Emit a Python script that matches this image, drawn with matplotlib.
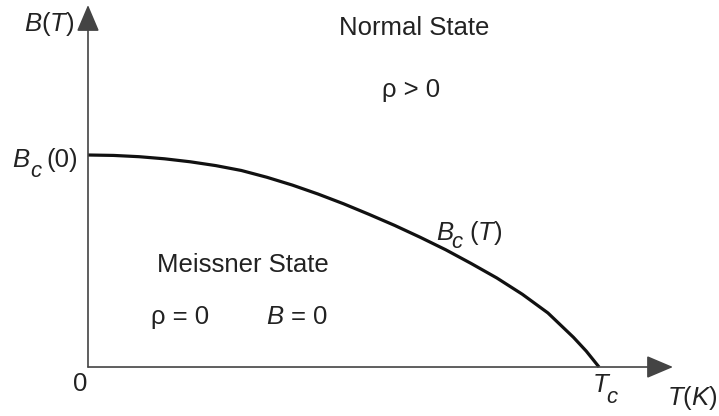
import matplotlib
matplotlib.use("Agg")
import matplotlib.pyplot as plt

# Critical field curve B_c(T), in units of T_c and B_c(0)
temps = [0.0, 0.05, 0.1, 0.15, 0.2, 0.25, 0.3, 0.35, 0.4, 0.45, 0.5, 0.55,
         0.6, 0.65, 0.7, 0.75, 0.8, 0.85, 0.9, 0.95, 0.975, 1.0]
bfield = [1.0, 0.998, 0.992, 0.982, 0.968, 0.95, 0.927, 0.895, 0.858, 0.816, 0.77, 0.72,
          0.668, 0.612, 0.553, 0.488, 0.42, 0.343, 0.255, 0.14, 0.075, 0.0]

plt.rcParams['font.family'] = ['Liberation Sans', 'DejaVu Sans']
plt.rcParams['mathtext.fontset'] = 'custom'
plt.rcParams['mathtext.rm'] = 'Liberation Sans'
plt.rcParams['mathtext.it'] = 'Liberation Sans:italic'

txt = '#222222'
axis_col = '#444444'
fs = 18.5

fig = plt.figure(figsize=(7.19, 4.16), dpi=100)
ax = fig.add_axes([0, 0, 1, 1])
ax.set_xlim(-0.1722, 1.2348)
ax.set_ylim(-0.2311, 1.7311)
ax.axis('off')

# axes drawn as arrows
arrow = dict(arrowstyle='-|>,head_length=0.66,head_width=0.28', mutation_scale=25,
             lw=1.2, color=axis_col, shrinkA=0, shrinkB=0)
ax.annotate('', xy=(0, 1.7075), xytext=(0, 0), arrowprops=arrow)
ax.annotate('', xy=(1.1448, 0), xytext=(0, 0), arrowprops=arrow)

ax.plot(temps, bfield, color='#111111', lw=2.3, solid_capstyle='butt')


def label(x, y, s, **kw):
    ax.text(x, y, s, fontsize=fs, color=txt, **kw)


label(0.638, 1.599, 'Normal State', ha='center', va='center')
label(0.632, 1.307, 'ρ > 0', ha='center', va='center')
label(0.303, 0.481, 'Meissner State', ha='center', va='center')
label(0.180, 0.236, 'ρ = 0', ha='center', va='center')
label(0.409, 0.236, r'$B$ = 0', ha='center', va='center')

label(-0.076, 1.618, r'$B(T)$', ha='center', va='center')
label(-0.016, -0.080, '0', ha='center', va='center')
label(1.182, -0.146, r'$T(K)$', ha='center', va='center')

# B_c(0) on the vertical axis
label(-0.1487, 0.943, 'B', style='italic', ha='left', va='baseline')
ax.text(-0.1135, 0.896, 'c', fontsize=16, color=txt, style='italic', ha='left', va='baseline')
label(-0.0822, 0.943, '(0)', ha='left', va='baseline')

# T_c on the horizontal axis
label(0.988, -0.118, 'T', style='italic', ha='left', va='baseline')
ax.text(1.0137, -0.170, 'c', fontsize=16, color=txt, style='italic', ha='left', va='baseline')

# B_c(T) next to the curve
label(0.681, 0.599, 'B', style='italic', ha='left', va='baseline')
ax.text(0.7104, 0.561, 'c', fontsize=16, color=txt, style='italic', ha='left', va='baseline')
label(0.7456, 0.599, r'$(T)$', ha='left', va='baseline')

fig.savefig('out.png', dpi=100)
